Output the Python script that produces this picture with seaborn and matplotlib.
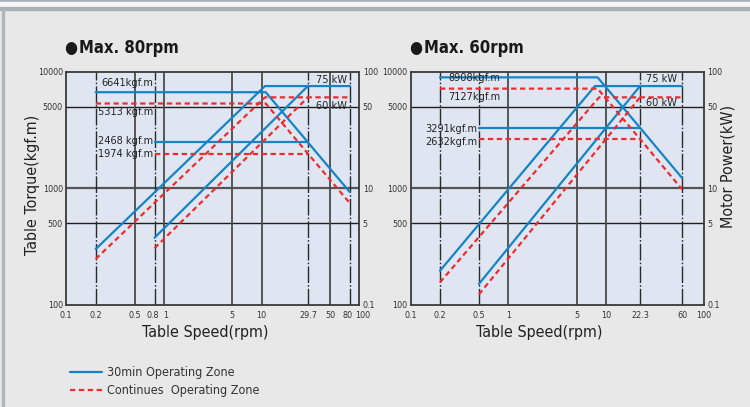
import numpy as np
import pandas as pd
import matplotlib
matplotlib.use("Agg")
import matplotlib.pyplot as plt
from matplotlib import font_manager
from matplotlib.lines import Line2D
from matplotlib.patches import Rectangle
from matplotlib.transforms import ScaledTranslation
import seaborn as sns

# ---------------- data: Max. 80rpm ----------------
ticks_80 = [0.1, 0.2, 0.5, 0.8, 1, 5, 10, 29.7, 50, 80, 100]
tick_labels_80 = ["0.1", "0.2", "0.5", "0.8", "1", "5", "10", "29.7", "50", "80", "100"]
solid_v_80 = [0.5, 1, 5, 10, 50]
dashdot_v_80 = [0.2, 0.8, 29.7, 80]

# 30min operating zone (speed, value)
m80_30_torque_low = ([0.2, 11, 29.7, 80], [6641, 6641, 2468, 920])
m80_30_torque_high = ([0.8, 29.7], [2468, 2468])
m80_30_power_low = ([0.2, 10.8, 80], [299, 7500, 7500])
m80_30_power_high = ([0.8, 29.7], [374, 7500])
# continuous operating zone
m80_c_torque_low = ([0.2, 11, 29.7, 80], [5313, 5313, 1974, 740])
m80_c_torque_high = ([0.8, 29.7], [1974, 1974])
m80_c_power_low = ([0.2, 10.8, 80], [246, 6000, 6000])
m80_c_power_high = ([0.8, 29.7], [304, 6000])

# ---------------- data: Max. 60rpm ----------------
ticks_60 = [0.1, 0.2, 0.5, 1, 5, 10, 22.3, 60, 100]
tick_labels_60 = ["0.1", "0.2", "0.5", "1", "5", "10", "22.3", "60", "100"]
solid_v_60 = [1, 5, 10]
dashdot_v_60 = [0.2, 0.5, 22.3, 60]

m60_30_torque_low = ([0.2, 8.2, 22.3, 60], [8908, 8908, 3291, 1220])
m60_30_torque_high = ([0.5, 22.3], [3291, 3291])
m60_30_power_low = ([0.2, 7.7, 60], [195, 7500, 7500])
m60_30_power_high = ([0.5, 22.3], [150, 7500])
m60_c_torque_low = ([0.2, 8.2, 22.3, 60], [7127, 7127, 2632, 975])
m60_c_torque_high = ([0.5, 22.3], [2632, 2632])
m60_c_power_low = ([0.2, 8.5, 60], [155, 6000, 6000])
m60_c_power_high = ([0.5, 22.3], [122, 6000])

torque_ticks = [10000, 5000, 1000, 500, 100]
torque_labels = ["10000", "5000", "1000", "500", "100"]
power_labels = ["100", "50", "10", "5", "0.1"]

zone_30 = "30min Operating Zone"
zone_c = "Continues  Operating Zone"

BLUE = "#1683c6"
RED = "#ee2b2f"


def build(segs):
    rows = []
    for i, (zone, (sp, val)) in enumerate(segs):
        for s, v in zip(sp, val):
            rows.append({"seg": i, "zone": zone, "speed": s, "value": v})
    return pd.DataFrame(rows)


df80 = build([(zone_30, m80_30_torque_low), (zone_30, m80_30_torque_high),
              (zone_30, m80_30_power_low), (zone_30, m80_30_power_high),
              (zone_c, m80_c_torque_low), (zone_c, m80_c_torque_high),
              (zone_c, m80_c_power_low), (zone_c, m80_c_power_high)])
df60 = build([(zone_30, m60_30_torque_low), (zone_30, m60_30_torque_high),
              (zone_30, m60_30_power_low), (zone_30, m60_30_power_high),
              (zone_c, m60_c_torque_low), (zone_c, m60_c_torque_high),
              (zone_c, m60_c_power_low), (zone_c, m60_c_power_high)])

sns.set_theme(style="white")
# a narrow face if one is installed, otherwise plain Liberation Sans
fonts = font_manager.fontManager.ttflist
if any(f.name == "Liberation Sans Narrow" for f in fonts):
    plt.rcParams["font.family"] = ["Liberation Sans Narrow", "DejaVu Sans"]
elif any(f.name == "DejaVu Sans" and f.stretch == "condensed" for f in fonts):
    plt.rcParams["font.family"] = ["DejaVu Sans"]
    plt.rcParams["font.stretch"] = "condensed"
else:
    plt.rcParams["font.family"] = ["Liberation Sans", "DejaVu Sans"]

W, H = 750, 407
fig = plt.figure(figsize=(7.5, 4.07), dpi=100)
fig.patch.set_facecolor("#e8e8e8")

# frame decoration at the top / left
fig.patches.append(Rectangle((0, 1 - 2 / H), 1, 2 / H, transform=fig.transFigure, color="#a9b1b8", zorder=0))
fig.patches.append(Rectangle((0, 1 - 7 / H), 1, 5 / H, transform=fig.transFigure, color="#f7f7f7", zorder=0))
fig.patches.append(Rectangle((0, 1 - 10 / H), 1, 3 / H, transform=fig.transFigure, color="#a9b1b8", zorder=0))
fig.patches.append(Rectangle((2 / W, 0), 2 / W, 1 - 10 / H, transform=fig.transFigure, color="#b0b6bc", zorder=0))

# small sideways nudges for crowded tick labels (pixels)
nudge = {"0.8": -2, "1": 2, "80": -2, "100": 3}


def draw(rect, df, ticks, labels, solid_v, dashdot_v):
    ax = fig.add_axes(rect)
    ax.set_facecolor("#dfe6f2")
    ax.set_xscale("log")
    ax.set_yscale("log")
    ax.set_xlim(0.1, 100)
    ax.set_ylim(100, 10000)

    for y in [5000, 500]:
        ax.axhline(y, color="#1e1e1e", lw=1.0, zorder=1)
    ax.axhline(1000, color="#555555", lw=1.6, zorder=1)
    for x in solid_v:
        ax.axvline(x, color="#4a4a4a", lw=1.3, zorder=1)
    for x in dashdot_v:
        ax.axvline(x, color="#2a2a2a", lw=1.0, dashes=(12, 1.5, 1.2, 1.5), zorder=1)

    sns.lineplot(data=df, x="speed", y="value", hue="zone", style="zone",
                 units="seg", estimator=None, sort=False,
                 palette={zone_30: BLUE, zone_c: RED},
                 dashes={zone_30: "", zone_c: (2.4, 1.6)},
                 lw=1.6, legend=False, ax=ax, zorder=3)

    ax.set_xticks(ticks)
    ax.set_xticklabels(labels)
    ax.set_yticks(torque_ticks)
    ax.set_yticklabels(torque_labels)
    ax.minorticks_off()
    ax.tick_params(length=0, labelsize=6.5, colors="#333333", pad=2.5)
    ax.tick_params(axis="x", pad=5)
    ax.set_xlabel("")
    ax.set_ylabel("")
    ax.grid(False)
    for s in ax.spines.values():
        s.set_color("#3a3a3a")
        s.set_linewidth(1.3)
    if "0.8" in labels:
        for lab in ax.get_xticklabels():
            d = nudge.get(lab.get_text(), 0)
            if d:
                lab.set_transform(lab.get_transform() + ScaledTranslation(d / 100, 0, fig.dpi_scale_trans))

    axr = ax.twinx()
    axr.set_yscale("log")
    axr.set_ylim(100, 10000)
    axr.set_yticks(torque_ticks)
    axr.set_yticklabels(power_labels)
    axr.minorticks_off()
    axr.tick_params(length=0, labelsize=6.5, colors="#333333", pad=2.5)
    axr.grid(False)
    for s in axr.spines.values():
        s.set_visible(False)
    return ax


ax1 = draw([66.3 / W, 1 - 304.5 / H, 293.1 / W, 233 / H], df80,
           ticks_80, tick_labels_80, solid_v_80, dashdot_v_80)
ax2 = draw([410.6 / W, 1 - 304.5 / H, 293.1 / W, 233 / H], df60,
           ticks_60, tick_labels_60, solid_v_60, dashdot_v_60)

ann = dict(fontsize=7.8, color="#222222", va="center", zorder=5)
ax1.text(0.78, 7950, "6641kgf.m", ha="right", **ann)
ax1.text(0.78, 4490, "5313 kgf.m", ha="right", **ann)
ax1.text(0.78, 2530, "2468 kgf.m", ha="right", **ann)
ax1.text(0.78, 1975, "1974 kgf.m", ha="right", **ann)
ax1.text(74, 8450, "75 kW", ha="right", **ann)
ax1.text(74, 5085, "60 kW", ha="right", **ann)

ax2.text(0.242, 8845, "8908kgf.m", ha="left", **ann)
ax2.text(0.242, 6080, "7127kgf.m", ha="left", **ann)
ax2.text(0.48, 3210, "3291kgf.m", ha="right", **ann)
ax2.text(0.48, 2470, "2632kgf.m", ha="right", **ann)
ax2.text(53.5, 8620, "75 kW", ha="right", **ann)
ax2.text(53.5, 5370, "60 kW", ha="right", **ann)

# titles and axis labels
for x0, title in [(64, "Max. 80rpm"), (409, "Max. 60rpm")]:
    fig.text(x0 / W, 1 - 48 / H, "\u25cf", fontsize=12, color="#1a1a1a", ha="left", va="center")
    fig.text((x0 + 15) / W, 1 - 48 / H, title, fontsize=12, fontweight="bold",
             color="#1a1a1a", ha="left", va="center")
fig.text(205 / W, 1 - 333 / H, "Table Speed(rpm)", fontsize=11.5, color="#222222",
         ha="center", va="center")
fig.text(539 / W, 1 - 333 / H, "Table Speed(rpm)", fontsize=11.5, color="#222222",
         ha="center", va="center")
fig.text(33 / W, 1 - 185 / H, "Table Torque(kgf.m)", fontsize=11.5, color="#222222",
         ha="center", va="center", rotation=90)
fig.text(728 / W, 1 - 166 / H, "Motor Power(kW)", fontsize=11.5, color="#222222",
         ha="center", va="center", rotation=90)

handles = [Line2D([], [], color=BLUE, lw=1.6),
           Line2D([], [], color=RED, lw=1.6, dashes=(2.4, 1.6))]
fig.legend(handles, [zone_30, zone_c], loc="upper left", bbox_to_anchor=(0.093, 0.1),
           frameon=False, fontsize=9, handlelength=2.6, handletextpad=0.35,
           labelspacing=0.4, borderpad=0, borderaxespad=0, labelcolor="#333333")

fig.savefig("out.png", dpi=100, facecolor=fig.get_facecolor())
